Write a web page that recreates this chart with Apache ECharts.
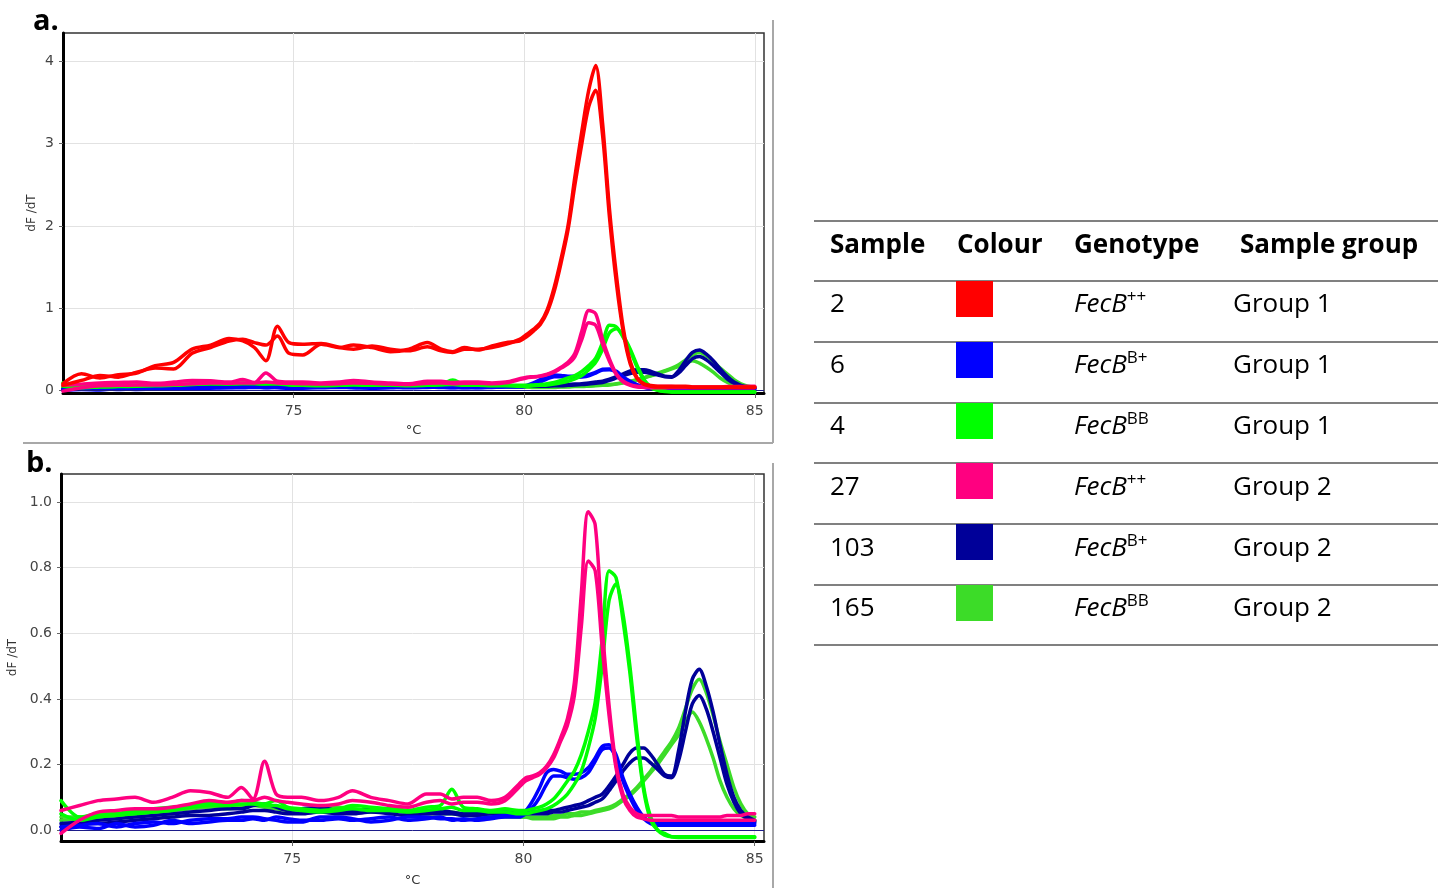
<!DOCTYPE html>
<html><head><meta charset="utf-8">
<script src="https://cdn.jsdelivr.net/npm/echarts@6/dist/echarts.min.js"></script>
<style>
html,body{margin:0;padding:0;background:#fff;}
#chart{position:absolute;left:0;top:0;width:1444px;height:888px;}
#table{position:absolute;left:0;top:0;width:1444px;height:888px;pointer-events:none;font-family:'Open Sans',sans-serif;color:#000;}
.rule{position:absolute;left:814px;width:624px;height:0;border-top:2.5px solid #808080;}
.cell{position:absolute;font-size:26px;line-height:1;transform:translateY(-50%);white-space:nowrap;}
.hd{font-weight:700;}
.sw{position:absolute;width:37px;height:36px;}
.gt i{font-style:italic;}
.gt sup{font-size:17px;position:relative;top:-10px;vertical-align:baseline;line-height:0;font-style:normal;}
</style></head><body>
<div id="chart"></div><div id="table"></div>
<script>
// temperature grid (°C)
const temps = [70.0,70.4,70.8,71.2,71.6,72.0,72.4,72.8,73.2,73.6,73.9,74.15,74.4,74.65,74.9,75.2,75.6,76.0,76.3,76.7,77.1,77.5,77.9,78.2,78.45,78.7,79.0,79.3,79.6,
  79.9,80.05,80.2,80.35,80.5,80.65,80.8,80.95,81.1,81.25,81.4,81.55,81.7,81.85,82.0,82.15,82.3,82.45,82.6,82.75,82.9,83.05,83.2,83.35,83.5,83.65,83.8,83.95,84.1,84.25,84.4,84.55,84.7,84.85,85.0];

// sample 2 (FecB++, group 1) – two replicates
const s2a = [0.08,0.20,0.15,0.19,0.21,0.30,0.34,0.50,0.55,0.63,0.60,0.52,0.36,0.78,0.58,0.56,0.57,0.52,0.50,0.54,0.50,0.48,0.53,0.48,0.46,0.50,0.50,0.52,0.56,
  0.62,0.68,0.74,0.82,0.98,1.25,1.60,2.00,2.60,3.15,3.65,3.95,3.25,2.20,1.40,0.75,0.35,0.15,0.08,0.06,0.05,0.05,0.05,0.05,0.05,0.04,0.04,0.04,0.04,0.04,0.04,0.04,0.04,0.04,0.04];
const s2b = [0.06,0.12,0.18,0.16,0.22,0.27,0.26,0.45,0.52,0.60,0.62,0.58,0.55,0.66,0.45,0.43,0.56,0.52,0.55,0.52,0.47,0.50,0.58,0.50,0.47,0.52,0.49,0.54,0.58,
  0.60,0.65,0.72,0.80,0.95,1.20,1.55,1.95,2.50,3.00,3.45,3.65,3.10,2.10,1.30,0.70,0.32,0.14,0.07,0.05,0.04,0.04,0.04,0.04,0.04,0.035,0.035,0.035,0.035,0.035,0.035,0.035,0.035,0.035,0.035];
// sample 6 (FecB B+, group 1)
const s6a = [0.01,0.015,0.02,0.01,0.02,0.025,0.02,0.03,0.035,0.035,0.04,0.04,0.035,0.03,0.025,0.025,0.04,0.04,0.035,0.025,0.03,0.04,0.04,0.035,0.035,0.03,0.035,0.04,0.045,
  0.05,0.06,0.09,0.13,0.175,0.185,0.18,0.17,0.17,0.175,0.19,0.22,0.255,0.26,0.23,0.16,0.11,0.07,0.04,0.025,0.02,0.02,0.02,0.02,0.02,0.02,0.02,0.02,0.02,0.02,0.02,0.02,0.02,0.02,0.02];
const s6b = [0.0,0.01,0.005,0.02,0.01,0.015,0.03,0.02,0.025,0.03,0.03,0.035,0.03,0.04,0.035,0.03,0.03,0.035,0.03,0.035,0.04,0.03,0.035,0.04,0.03,0.035,0.03,0.035,0.04,
  0.04,0.05,0.07,0.10,0.14,0.165,0.165,0.16,0.155,0.16,0.175,0.21,0.245,0.25,0.22,0.15,0.10,0.06,0.035,0.02,0.015,0.015,0.015,0.015,0.015,0.015,0.015,0.015,0.015,0.015,0.015,0.015,0.015,0.015,0.015];
// sample 4 (FecB BB, group 1)
const s4a = [0.09,0.04,0.045,0.05,0.06,0.065,0.07,0.075,0.085,0.08,0.09,0.085,0.08,0.09,0.07,0.065,0.06,0.065,0.075,0.07,0.065,0.06,0.07,0.075,0.125,0.07,0.065,0.06,0.065,
  0.06,0.06,0.065,0.07,0.08,0.095,0.12,0.15,0.18,0.23,0.30,0.39,0.58,0.79,0.77,0.64,0.48,0.28,0.12,0.03,0.0,-0.01,-0.02,-0.022,-0.022,-0.022,-0.022,-0.022,-0.022,-0.022,-0.022,-0.022,-0.022,-0.022,-0.022];
const s4b = [0.05,0.03,0.04,0.045,0.05,0.055,0.06,0.07,0.075,0.075,0.08,0.08,0.075,0.075,0.065,0.06,0.055,0.06,0.065,0.06,0.06,0.055,0.06,0.065,0.07,0.06,0.06,0.055,0.055,
  0.05,0.05,0.055,0.06,0.065,0.075,0.09,0.11,0.14,0.18,0.25,0.34,0.50,0.70,0.75,0.66,0.50,0.30,0.13,0.04,0.0,-0.015,-0.02,-0.02,-0.02,-0.02,-0.02,-0.02,-0.02,-0.02,-0.02,-0.02,-0.02,-0.02,-0.02];
// sample 27 (FecB++, group 2)
const s27a = [0.06,0.075,0.09,0.095,0.10,0.085,0.10,0.12,0.115,0.10,0.13,0.095,0.21,0.11,0.10,0.10,0.09,0.10,0.12,0.10,0.09,0.08,0.11,0.11,0.095,0.10,0.10,0.09,0.10,
  0.14,0.16,0.165,0.175,0.195,0.23,0.28,0.34,0.45,0.72,0.97,0.93,0.62,0.38,0.20,0.11,0.07,0.05,0.045,0.045,0.045,0.045,0.045,0.04,0.04,0.04,0.04,0.04,0.04,0.04,0.045,0.045,0.045,0.05,0.05];
const s27b = [-0.01,0.03,0.055,0.06,0.065,0.065,0.07,0.08,0.09,0.085,0.09,0.09,0.10,0.09,0.085,0.08,0.075,0.08,0.09,0.085,0.075,0.07,0.085,0.09,0.08,0.085,0.085,0.08,0.09,
  0.13,0.15,0.16,0.17,0.19,0.22,0.27,0.32,0.41,0.62,0.82,0.79,0.56,0.35,0.19,0.10,0.06,0.04,0.035,0.03,0.03,0.03,0.03,0.03,0.03,0.03,0.03,0.03,0.03,0.03,0.03,0.03,0.03,0.03,0.03];
// sample 103 (FecB B+, group 2)
const s103a = [0.02,0.025,0.03,0.035,0.04,0.045,0.05,0.055,0.06,0.065,0.065,0.075,0.08,0.07,0.06,0.065,0.07,0.06,0.06,0.065,0.06,0.055,0.06,0.06,0.055,0.05,0.05,0.055,0.055,
  0.055,0.055,0.055,0.055,0.06,0.06,0.065,0.07,0.075,0.08,0.09,0.10,0.11,0.135,0.165,0.20,0.235,0.25,0.25,0.23,0.20,0.17,0.165,0.24,0.36,0.46,0.49,0.44,0.36,0.26,0.17,0.10,0.06,0.04,0.03];
const s103b = [0.01,0.02,0.02,0.025,0.03,0.035,0.04,0.045,0.045,0.05,0.055,0.06,0.06,0.055,0.05,0.05,0.055,0.05,0.05,0.055,0.05,0.045,0.05,0.05,0.05,0.045,0.045,0.05,0.05,
  0.05,0.05,0.05,0.05,0.05,0.055,0.055,0.06,0.065,0.07,0.075,0.085,0.095,0.12,0.15,0.18,0.205,0.22,0.22,0.205,0.185,0.165,0.16,0.21,0.30,0.385,0.41,0.37,0.30,0.22,0.14,0.085,0.05,0.035,0.025];
// sample 165 (FecB BB, group 2)
const s165a = [0.03,0.035,0.04,0.045,0.05,0.055,0.06,0.065,0.07,0.065,0.07,0.075,0.07,0.065,0.06,0.055,0.06,0.065,0.06,0.055,0.06,0.055,0.05,0.05,0.05,0.045,0.045,0.045,0.04,
  0.04,0.04,0.04,0.04,0.04,0.045,0.045,0.05,0.05,0.055,0.055,0.06,0.065,0.07,0.08,0.095,0.11,0.13,0.155,0.18,0.21,0.24,0.27,0.31,0.37,0.43,0.46,0.42,0.35,0.27,0.20,0.13,0.08,0.05,0.04];
const s165b = [0.04,0.04,0.05,0.05,0.055,0.06,0.065,0.07,0.075,0.07,0.075,0.08,0.075,0.07,0.065,0.06,0.065,0.07,0.065,0.06,0.065,0.06,0.055,0.055,0.055,0.05,0.05,0.05,0.045,
  0.04,0.04,0.035,0.035,0.035,0.035,0.04,0.04,0.045,0.045,0.05,0.055,0.06,0.065,0.075,0.09,0.105,0.125,0.15,0.175,0.20,0.23,0.26,0.29,0.33,0.36,0.33,0.28,0.22,0.15,0.10,0.065,0.045,0.035,0.03];

// table content
const sampleIds = ['2','6','4','27','103','165'];
const colours = ['#ff0000','#0000ff','#00ff00','#ff0080','#000099','#3cdc28'];
const genoSup = ['++','B+','BB','++','B+','BB'];
const groups = ['Group 1','Group 1','Group 1','Group 2','Group 2','Group 2'];
const headers = ['Sample','Colour','Genotype','Sample group'];
const replicates = [[s2a,s2b],[s6a,s6b],[s4a,s4b],[s27a,s27b],[s103a,s103b],[s165a,s165b]];

// axis ticks
const xTicks = [75,80,85];
const yTicksA = [0,1,2,3,4];
const yTicksB = [0,0.2,0.4,0.6,0.8,1.0];

const drawOrder = [5,4,1,2,3,0];
const FONT = 'DejaVu Sans';

function pairs(vals){ return temps.map((t,i)=>[t, vals[i]]); }

const series = [];
[0,1].forEach(g=>{
  drawOrder.forEach((si,k)=>{
    if (g===1 && si===0) return;
    replicates[si].forEach((vals,r)=>{
      const s = {
        type:'line', name:'Sample '+sampleIds[si], xAxisIndex:g, yAxisIndex:g,
        data:pairs(vals), showSymbol:false, symbol:'none', smooth:0.3,
        lineStyle:{color:colours[si], width:3.5, join:'round', cap:'round'}, z:2+k, silent:true, animation:false
      };
      if (si===1 && r===0) {
        s.markLine = {silent:true, symbol:['none','none'], label:{show:false}, animation:false,
          lineStyle:{color:'#1c1c8a', width:1, type:'solid'}, data:[{yAxis:0}]};
      }
      series.push(s);
    });
  });
});

function xAxisCfg(g, gap){
  return {gridIndex:g, type:'value', min:70, max:85.2,
    name:'°C', nameLocation:'middle', nameGap:gap,
    nameTextStyle:{fontFamily:FONT, fontSize:13, color:'#333'},
    axisLine:{show:true, onZero:false, lineStyle:{color:'#000', width:3}},
    axisTick:{show:true, length:5, customValues:xTicks, lineStyle:{color:'#666'}},
    axisLabel:{customValues:xTicks, margin:11, fontFamily:FONT, fontSize:14, color:'#444'},
    splitLine:{show:true, lineStyle:{color:'#e2e2e2', width:1}}};
}
function yAxisCfg(g, min, max, ticks, gap, dec){
  return {gridIndex:g, type:'value', min:min, max:max,
    name:'dF /dT', nameLocation:'middle', nameGap:gap,
    nameTextStyle:{fontFamily:FONT, fontSize:12, color:'#333'},
    axisLine:{show:true, lineStyle:{color:'#000', width:3}},
    axisTick:{show:true, length:4, customValues:ticks, lineStyle:{color:'#666'}},
    axisLabel:{customValues:ticks, margin:9, fontFamily:FONT, fontSize:14, color:'#444',
      formatter:v=>v.toFixed(dec)},
    splitLine:{show:true, lineStyle:{color:'#e2e2e2', width:1}}};
}

const chart = echarts.init(document.getElementById('chart'), null, {renderer:'canvas'});
chart.setOption({
  animation:false,
  backgroundColor:'#fff',
  grid:[
    {left:63, top:33, width:701, height:360, show:true, borderColor:'#333', borderWidth:1.5, containLabel:false},
    {left:61, top:474, width:703, height:368, show:true, borderColor:'#333', borderWidth:1.5, containLabel:false}
  ],
  xAxis:[xAxisCfg(0,31), xAxisCfg(1,33)],
  yAxis:[yAxisCfg(0,-0.033,4.346,yTicksA,25,0), yAxisCfg(1,-0.033,1.085,yTicksB,42,1)],
  series:series,
  graphic:[
    {type:'line', shape:{x1:773,y1:20,x2:773,y2:443}, style:{stroke:'#a8a8a8', lineWidth:2}, silent:true},
    {type:'line', shape:{x1:23,y1:443,x2:773,y2:443}, style:{stroke:'#a8a8a8', lineWidth:2}, silent:true},
    {type:'line', shape:{x1:773,y1:463,x2:773,y2:888}, style:{stroke:'#a8a8a8', lineWidth:2}, silent:true},
    {type:'text', x:33, y:22, style:{text:'a.', font:'bold 29px "Open Sans"', fill:'#000', verticalAlign:'middle'}, silent:true},
    {type:'text', x:26, y:464, style:{text:'b.', font:'bold 29px "Open Sans"', fill:'#000', verticalAlign:'middle'}, silent:true}
  ]
});

// table
const tbl = document.getElementById('table');
const ruleY = [221,281,342,403,463,524,585,645];
ruleY.forEach(y=>{ const d=document.createElement('div'); d.className='rule'; d.style.top=(y-1)+'px'; tbl.appendChild(d); });
const hx = [830,957,1074,1240];
headers.forEach((h,i)=>{ const d=document.createElement('div'); d.className='cell hd'; d.style.left=hx[i]+'px'; d.style.top='243px'; d.textContent=h; tbl.appendChild(d); });
const rowCy = [302,363,424,485,546,606];
sampleIds.forEach((s,i)=>{
  const c1=document.createElement('div'); c1.className='cell'; c1.style.left='830px'; c1.style.top=rowCy[i]+'px'; c1.textContent=s; tbl.appendChild(c1);
  const sw=document.createElement('div'); sw.className='sw'; sw.style.left='956px'; sw.style.top=(ruleY[i+1])+'px'; sw.style.background=colours[i]; tbl.appendChild(sw);
  const g=document.createElement('div'); g.className='cell gt'; g.style.left='1074px'; g.style.top=rowCy[i]+'px';
  const it=document.createElement('i'); it.textContent='FecB'; g.appendChild(it);
  const sp=document.createElement('sup'); sp.textContent=genoSup[i]; g.appendChild(sp); tbl.appendChild(g);
  const gr=document.createElement('div'); gr.className='cell'; gr.style.left='1233px'; gr.style.top=rowCy[i]+'px'; gr.textContent=groups[i]; tbl.appendChild(gr);
});
</script>
</body></html>
